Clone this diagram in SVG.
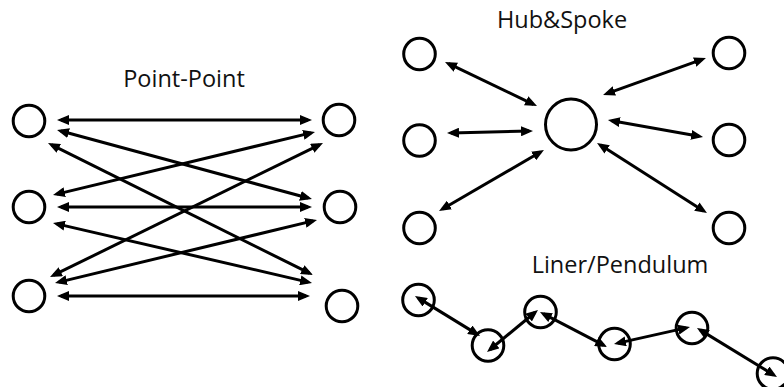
<svg xmlns="http://www.w3.org/2000/svg" width="784" height="387" viewBox="0 0 784 387">
  <style>
    .node { fill: none; stroke: #000; stroke-width: 3; }
    .conn line { stroke: #000; stroke-width: 3; marker-start: url(#ah); marker-end: url(#ah); }
    .title { font-family: "Open Sans", "Liberation Sans", sans-serif; font-size: 23.5px; fill: #111; text-anchor: middle; }
  </style>
  <defs>
    <marker id="ah" viewBox="0 0 12 10" refX="8" refY="5" markerWidth="12" markerHeight="10" markerUnits="userSpaceOnUse" orient="auto-start-reverse">
      <path d="M0,0 L12,5 L0,10 z" fill="#000"/>
    </marker>
  </defs>
  <rect width="784" height="387" fill="#fff"/>

  <!-- Titles -->
  <text class="title" x="184" y="87">Point-Point</text>
  <text class="title" x="562" y="28">Hub&amp;Spoke</text>
  <text class="title" x="620" y="273">Liner/Pendulum</text>

  <!-- Point-Point nodes -->
  <g id="pp-L1"><circle class="node" cx="29" cy="121" r="15.8"/></g>
  <g id="pp-L2"><circle class="node" cx="29" cy="207" r="15.8"/></g>
  <g id="pp-L3"><circle class="node" cx="29" cy="296" r="15.8"/></g>
  <g id="pp-R1"><circle class="node" cx="339" cy="120" r="15.8"/></g>
  <g id="pp-R2"><circle class="node" cx="340" cy="207" r="15.8"/></g>
  <g id="pp-R3"><circle class="node" cx="342" cy="306" r="15.8"/></g>

  <!-- Hub & Spoke nodes -->
  <g id="hs-hub"><circle class="node" cx="571" cy="124.5" r="25.5"/></g>
  <g id="hs-L1"><circle class="node" cx="419.5" cy="54" r="15.8"/></g>
  <g id="hs-L2"><circle class="node" cx="419.5" cy="140.5" r="15.8"/></g>
  <g id="hs-L3"><circle class="node" cx="419.5" cy="228" r="15.8"/></g>
  <g id="hs-R1"><circle class="node" cx="729" cy="53" r="15.8"/></g>
  <g id="hs-R2"><circle class="node" cx="729" cy="140" r="15.8"/></g>
  <g id="hs-R3"><circle class="node" cx="729" cy="228" r="15.8"/></g>

  <!-- Liner / Pendulum nodes -->
  <g id="lp-1"><circle class="node" cx="418.5" cy="300" r="15.8"/></g>
  <g id="lp-2"><circle class="node" cx="488" cy="345.5" r="15.8"/></g>
  <g id="lp-3"><circle class="node" cx="540.5" cy="312" r="15.8"/></g>
  <g id="lp-4"><circle class="node" cx="614.5" cy="344" r="15.8"/></g>
  <g id="lp-5"><circle class="node" cx="692" cy="328" r="15.8"/></g>
  <g id="lp-6"><circle class="node" cx="773" cy="373.5" r="15.8"/></g>

  <!-- Connectors -->
  <g id="connectors" class="conn">
    <line x1="61" y1="120" x2="308" y2="120"/>
    <line x1="60.9" y1="131" x2="308.1" y2="198"/>
    <line x1="51.6" y1="144.8" x2="309.4" y2="273.2"/>
    <line x1="56.9" y1="194.1" x2="311.1" y2="132.9"/>
    <line x1="61" y1="207" x2="308" y2="207"/>
    <line x1="56.9" y1="223.9" x2="308.1" y2="282.1"/>
    <line x1="53.6" y1="275.2" x2="319.4" y2="144.8"/>
    <line x1="58.9" y1="282.1" x2="313.1" y2="220.9"/>
    <line x1="61" y1="296" x2="306" y2="296"/>

    <line x1="448.6" y1="63.7" x2="533.4" y2="104.3"/>
    <line x1="451" y1="132.9" x2="529" y2="131.1"/>
    <line x1="442.5" y1="209" x2="540.5" y2="152"/>
    <line x1="606.8" y1="93.6" x2="702.2" y2="59.4"/>
    <line x1="611.9" y1="120.7" x2="699.1" y2="136.3"/>
    <line x1="600.4" y1="145.1" x2="703.6" y2="210.9"/>

    <line x1="418.4" y1="298.1" x2="476.6" y2="333.9"/>
    <line x1="490.1" y1="349.5" x2="534.9" y2="312.5"/>
    <line x1="543.5" y1="313.9" x2="603.5" y2="345.2"/>
    <line x1="617.9" y1="343.1" x2="686.1" y2="327.9"/>
    <line x1="700.4" y1="330.1" x2="773.6" y2="374.9"/>
  </g>
</svg>
